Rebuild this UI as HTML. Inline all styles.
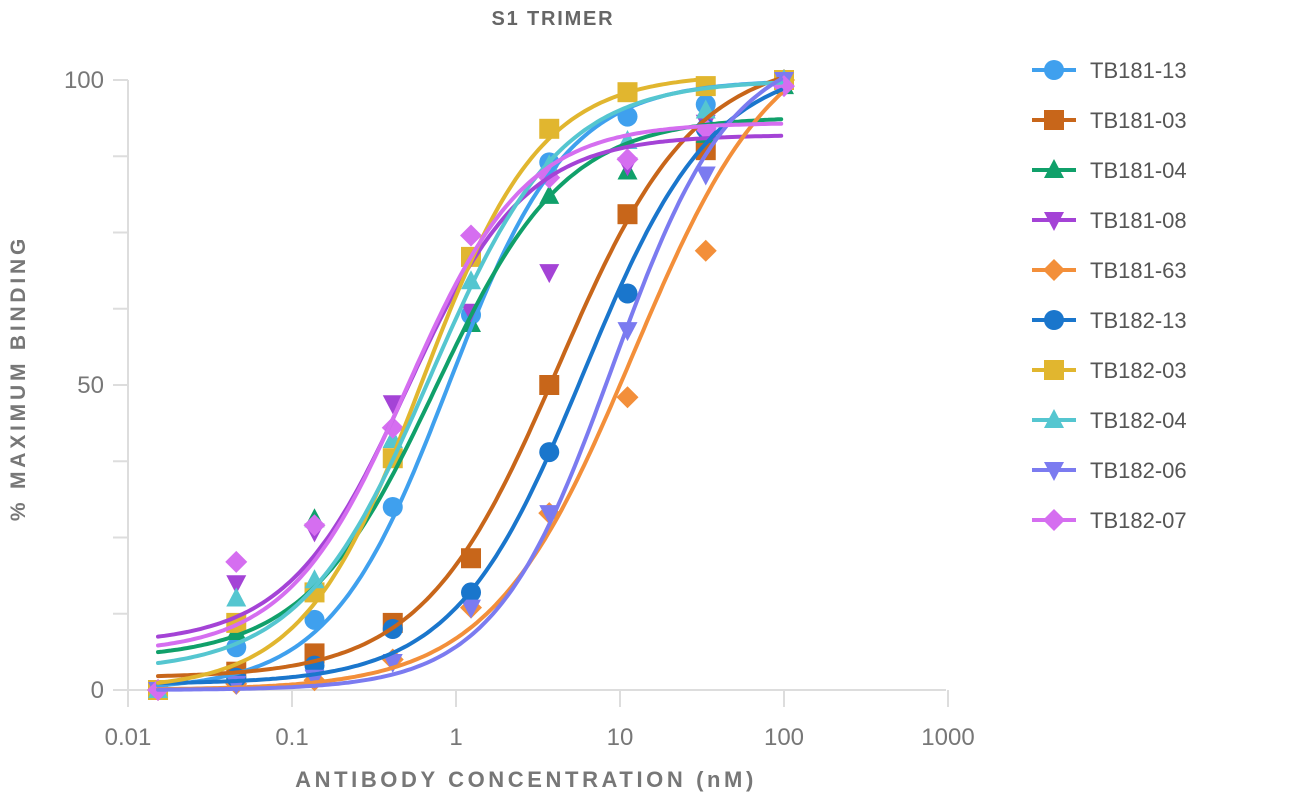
<!DOCTYPE html>
<html><head><meta charset="utf-8"><style>
body{margin:0;background:#fff;}
svg text{font-family:"Liberation Sans",sans-serif;}
</style></head><body>
<svg id="s" width="1300" height="800" xmlns="http://www.w3.org/2000/svg">
<text x="553" y="25" text-anchor="middle" font-size="20" font-weight="bold" fill="#666" letter-spacing="1.8">S1 TRIMER</text>
<text transform="translate(25,378) rotate(-90)" text-anchor="middle" font-size="21" font-weight="bold" fill="#777" letter-spacing="3.8">% MAXIMUM BINDING</text>
<text x="526" y="787" text-anchor="middle" font-size="22" font-weight="bold" fill="#777" letter-spacing="3.6">ANTIBODY CONCENTRATION (nM)</text>
<g id="ax" stroke="#ddd" stroke-width="2"></g>
<g id="lbl" fill="#777" font-size="24"></g>
<g id="plot"></g>
<g id="leg"></g>
</svg>
<script>
const NS="http://www.w3.org/2000/svg";
function el(p,t,a,txt){const e=document.createElementNS(NS,t);for(const k in a)e.setAttribute(k,a[k]);if(txt)e.textContent=txt;p.appendChild(e);return e;}
const X=c=>128+(Math.log10(c)+2)*164, Y=v=>690-v*6.1;
const ax=document.getElementById('ax'),lbl=document.getElementById('lbl');
el(ax,'line',{x1:128,y1:80,x2:128,y2:707});
el(ax,'line',{x1:113,y1:690,x2:946,y2:690});
for(let i=0;i<=8;i++){const y=Y(i*12.5);el(ax,'line',{x1:113,y1:y,x2:128,y2:y});}
["0.01","0.1","1","10","100","1000"].forEach((t,i)=>{const x=128+i*164;el(ax,'line',{x1:x,y1:690,x2:x,y2:707});el(lbl,'text',{x:x,y:745,'text-anchor':'middle'},t);});
[[0,"0"],[50,"50"],[100,"100"]].forEach(([v,t])=>el(lbl,'text',{x:104,y:Y(v)+8,'text-anchor':'end'},t));
const conc=[];for(let n=8;n>=0;n--)conc.push(100/Math.pow(3,n));
const S=[
["TB181-13","#3fa0ee","c",[0,100,0.9,1.2],[0,7,11.5,30,61.5,86.5,94,96,100]],
["TB181-03","#c8661a","s",[2,104,4.2,1.05],[0,3,6,11,21.6,50,78,88.5,100]],
["TB181-04","#10a06a","t",[5,94,0.75,1.1],[-1,9.5,28,41,60,81,85,91,99]],
["TB181-08","#a443d6","v",[7.5,91,0.5,1.2],[0,17.5,26,47,62,68.5,86,93,99]],
["TB181-63","#f38f3a","d",[0,110,12,1.0],[0,1,1.6,5,13.5,29,48,72,100]],
["TB182-13","#1a76cc","c",[1,103,6,1.1],[0,2,4,10,16,39,65,92,100]],
["TB182-03","#e1b62f","s",[0,101,0.62,1.2],[0,11,16,38,71,92,98,99,100]],
["TB182-04","#55c6d0","t",[3,100,0.7,1.1],[0,15,18,41,67,86,90,95,100]],
["TB182-06","#7b7bf0","v",[0,106,9,1.2],[0,1,2,4.6,13.5,29,59,84.5,100]],
["TB182-07","#d56ef0","d",[6,93,0.5,1.2],[0,21,27,43,74.5,84,87,92,99]]
];
function marker(g,type,x,y,c){
 if(type=='c')el(g,'circle',{cx:x,cy:y,r:10,fill:c});
 else if(type=='s')el(g,'rect',{x:x-10,y:y-10,width:20,height:20,fill:c});
 else if(type=='t')el(g,'polygon',{points:`${x},${y-11} ${x+10},${y+8} ${x-10},${y+8}`,fill:c});
 else if(type=='v')el(g,'polygon',{points:`${x},${y+11} ${x+10},${y-8} ${x-10},${y-8}`,fill:c});
 else el(g,'polygon',{points:`${x},${y-11} ${x+11},${y} ${x},${y+11} ${x-11},${y}`,fill:c});
}
const plot=document.getElementById('plot'),leg=document.getElementById('leg');
S.forEach(([n,c,t,p,d])=>{
 const g=el(plot,'g',{});
 d.forEach((v,i)=>marker(g,t,X(conc[i]),Y(Math.max(v,0)),c));
});
S.forEach(([n,c,t,p,d])=>{
 let pts=[];const [b,tp,ec,h]=p;
 for(let lx=Math.log10(conc[0]);lx<=2.0001;lx+=0.02){const v=b+(tp-b)/(1+Math.pow(ec/Math.pow(10,lx),h));if(v>100.2)break;pts.push(X(Math.pow(10,lx)).toFixed(1)+','+Y(v).toFixed(1));}
 el(plot,'polyline',{points:pts.join(' '),fill:'none',stroke:c,'stroke-width':4,'stroke-linecap':'round'});
});
S.forEach(([n,c,t],i)=>{
 const y=70+i*50;
 el(leg,'line',{x1:1032,y1:y,x2:1076,y2:y,stroke:c,'stroke-width':4});
 marker(leg,t,1054,y,c);
 el(leg,'text',{x:1090,y:y+8,'font-size':22,fill:'#555'},n);
});
</script>
</body></html>
